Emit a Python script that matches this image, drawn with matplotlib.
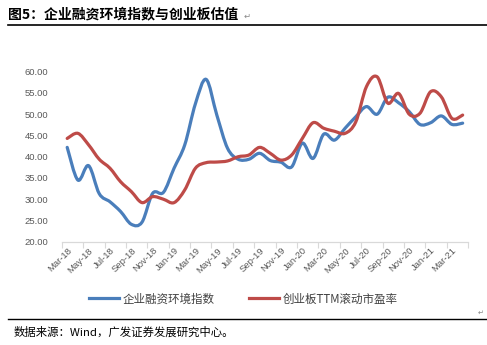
import numpy as np
import matplotlib
matplotlib.use('Agg')
import matplotlib.pyplot as plt
from matplotlib.path import Path
from matplotlib.patches import PathPatch
from matplotlib.lines import Line2D

plt.rcParams['font.family'] = ['Noto Sans CJK SC', 'DejaVu Sans']

months = ['Mar-18', 'Apr-18', 'May-18', 'Jun-18', 'Jul-18', 'Aug-18', 'Sep-18', 'Oct-18',
          'Nov-18', 'Dec-18', 'Jan-19', 'Feb-19', 'Mar-19', 'Apr-19', 'May-19', 'Jun-19',
          'Jul-19', 'Aug-19', 'Sep-19', 'Oct-19', 'Nov-19', 'Dec-19', 'Jan-20', 'Feb-20',
          'Mar-20', 'Apr-20', 'May-20', 'Jun-20', 'Jul-20', 'Aug-20', 'Sep-20', 'Oct-20',
          'Nov-20', 'Dec-20', 'Jan-21', 'Feb-21', 'Mar-21', 'Apr-21']

# 企业融资环境指数
finance_index = [42.2, 34.5, 37.9, 31.3, 29.4, 27.1, 24.1, 24.6, 31.4, 31.6, 37.3, 42.8,
                 52.5, 58.2, 49.8, 42.0, 39.4, 39.4, 40.8, 39.1, 38.7, 37.6, 43.2, 39.6,
                 45.3, 43.9, 46.7, 49.4, 51.8, 50.0, 54.0, 52.7, 50.6, 47.6, 48.0, 49.6,
                 47.6, 47.9]

# 创业板TTM滚动市盈率
gem_pe = [44.3, 45.5, 42.8, 39.4, 37.3, 34.1, 31.8, 29.2, 30.6, 30.0, 29.2, 32.2,
          37.3, 38.6, 38.75, 39.0, 40.0, 40.4, 42.2, 40.8, 39.2, 40.4, 44.3, 48.0,
          46.7, 46.0, 45.5, 48.2, 56.5, 58.8, 52.6, 54.9, 50.0, 50.2, 55.3, 54.1,
          49.0, 49.8]

yticks = [20, 25, 30, 35, 40, 45, 50, 55, 60]


def smooth_path(xs, ys):
    # Excel-style smoothed line: cubic Bezier through each point
    pts = np.column_stack([xs, ys]).astype(float)
    n = len(pts)
    verts = [pts[0]]
    codes = [Path.MOVETO]
    for i in range(n - 1):
        p0 = pts[i - 1] if i > 0 else pts[i]
        p1 = pts[i]
        p2 = pts[i + 1]
        p3 = pts[i + 2] if i + 2 < n else pts[i + 1]
        c1 = p1 + (p2 - p0) / 6.0
        c2 = p2 - (p3 - p1) / 6.0
        verts += [c1, c2, p2]
        codes += [Path.CURVE4] * 3
    return Path(verts, codes)


fig = plt.figure(figsize=(4.87, 3.45), dpi=100)
ax = fig.add_axes([0.127, 0.2994, 0.834, 0.4927])

x = np.arange(len(months))
blue = '#4A7EBB'
red = '#BE4B48'
ax.add_patch(PathPatch(smooth_path(x, finance_index), fill=False, edgecolor=blue,
                       lw=2.3, capstyle='round', joinstyle='round', zorder=3))
ax.add_patch(PathPatch(smooth_path(x, gem_pe), fill=False, edgecolor=red,
                       lw=2.3, capstyle='round', joinstyle='round', zorder=4))

ax.set_xlim(-0.5, len(months) - 0.5)
ax.set_ylim(20, 60)
ax.set_yticks(yticks)
ax.set_yticklabels([f'{v:.2f}' for v in yticks], family='Liberation Sans',
                   fontsize=6.8, color='#595959')
ax.tick_params(axis='y', length=0, pad=10)

ax.set_xticks(np.arange(-0.5, len(months), 2))
ax.set_xticklabels([])
ax.tick_params(axis='x', which='major', length=4, color='#d9d9d9', width=0.8)
ax.set_xticks(x[::2], minor=True)
ax.set_xticklabels(months[::2], minor=True, rotation=45, ha='right', va='top',
                   rotation_mode='anchor', family='Liberation Sans', fontsize=6.8,
                   color='#595959')
ax.tick_params(axis='x', which='minor', length=0, pad=3)

for s in ['top', 'right', 'left']:
    ax.spines[s].set_visible(False)
ax.spines['bottom'].set_color('#d9d9d9')
ax.spines['bottom'].set_linewidth(0.9)

# legend
handles = [Line2D([], [], color=blue, lw=2.3), Line2D([], [], color=red, lw=2.3)]
fig.legend(handles, ['企业融资环境指数', '创业板TTM滚动市盈率'], loc='center',
           bbox_to_anchor=(0.5, 1 - 299 / 345), ncol=2, frameon=False, fontsize=8.3,
           handlelength=2.6, handletextpad=0.3, columnspacing=3.0,
           labelcolor='#404040')

# title, rules and source
fig.text(8 / 487, 1 - 14 / 345, '图5：企业融资环境指数与创业板估值', fontsize=10,
         fontweight='bold', va='center', ha='left')
fig.text(244 / 487, 1 - 16 / 345, '↵', fontsize=6, color='#888888', va='center')
fig.add_artist(Line2D([8 / 487, 1.0], [1 - 25 / 345] * 2, color='black', lw=1.2))
fig.add_artist(Line2D([8 / 487, 1.0], [1 - 319 / 345] * 2, color='black', lw=1.0))
fig.text(478 / 487, 1 - 313 / 345, '↵', fontsize=5, color='#888888', va='center')
fig.text(14 / 487, 1 - 332 / 345, '数据来源：Wind，广发证券发展研究中心。', fontsize=8.2,
         va='center', ha='left')

fig.savefig('out.png', dpi=100)
